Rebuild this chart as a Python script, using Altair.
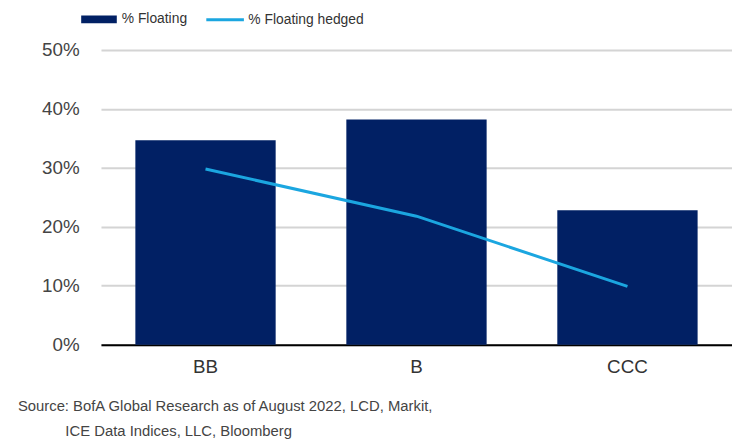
import altair as alt
import pandas as pd

ratings = ["BB", "B", "CCC"]
pct_floating = [34.7, 38.2, 22.8]
pct_floating_hedged = [29.8, 21.8, 9.9]
source_lines = ["Source: BofA Global Research as of August 2022, LCD, Markit,",
                "ICE Data Indices, LLC, Bloomberg"]

df = pd.DataFrame({
    "rating": ratings,
    "floating": [v / 100 for v in pct_floating],
    "hedged": [v / 100 for v in pct_floating_hedged],
    "s1": "% Floating",
    "s2": "% Floating hedged",
})

FONT = "Liberation Sans"
NAVY = "#012064"
BLUE = "#1ba6e0"

x = alt.X("rating:N", sort=ratings, title=None,
          scale=alt.Scale(paddingInner=0.335, paddingOuter=0.163),
          axis=alt.Axis(labelAngle=0, ticks=False, domainColor="#000000", domainWidth=2,
                        labelFontSize=19, labelColor="#333333", labelPadding=13,
                        labelFont=FONT, grid=False))
yscale = alt.Scale(domain=[0, 0.5])

bars = alt.Chart(df).mark_bar(color=NAVY).encode(
    x=x,
    y=alt.Y("floating:Q", scale=yscale, title=None,
            axis=alt.Axis(format=".0%", values=[0, 0.1, 0.2, 0.3, 0.4, 0.5], domain=False, ticks=False,
                          gridColor="#d4d4d4", gridWidth=2, labelFontSize=19, labelColor="#444444",
                          labelPadding=22, labelFont=FONT)),
    fill=alt.Fill("s1:N", scale=alt.Scale(range=[NAVY]), title=None,
                  legend=alt.Legend(orient="none", legendX=-20, legendY=-49, direction="horizontal",
                                    symbolType="M-1,-0.22H1V0.22H-1Z", symbolSize=1296,
                                    symbolStrokeWidth=0, labelFontSize=14, labelFont=FONT,
                                    labelColor="#333333", labelOffset=5)),
)

line = alt.Chart(df).mark_line(color=BLUE, strokeWidth=3).encode(
    x=x,
    y=alt.Y("hedged:Q", scale=yscale),
    stroke=alt.Stroke("s2:N", scale=alt.Scale(range=[BLUE]), title=None,
                      legend=alt.Legend(orient="none", legendX=105, legendY=-51, direction="horizontal",
                                        symbolType="stroke", symbolSize=1444, symbolStrokeWidth=3,
                                        labelFontSize=14, labelFont=FONT, labelColor="#333333",
                                        labelOffset=3)),
)

src1 = alt.Chart(pd.DataFrame({"t": [source_lines[0]]})).mark_text(
    align="left", baseline="middle", font=FONT, fontSize=15, color="#444444"
).encode(text="t:N", x=alt.value(-84), y=alt.value(360))

src2 = alt.Chart(pd.DataFrame({"t": [source_lines[1]]})).mark_text(
    align="left", baseline="middle", font=FONT, fontSize=15, color="#444444"
).encode(text="t:N", x=alt.value(-36), y=alt.value(385))

chart = alt.layer(bars, line, src1, src2).properties(
    width=638,
    height=298,
    padding={"left": 94, "top": 40, "right": 0, "bottom": 100},
    autosize=alt.AutoSizeParams(type="none"),
).configure_view(stroke=None)

chart.save("out.html", embed_options={"renderer": "svg", "actions": False})
